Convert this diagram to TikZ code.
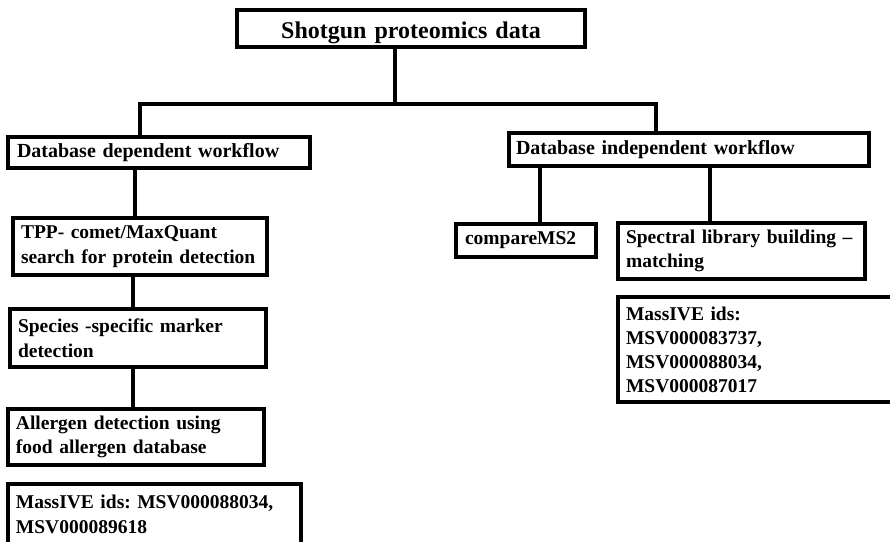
\documentclass[tikz,border=0pt]{standalone}
\usepackage{fontspec}
\setmainfont{Liberation Serif}
\frenchspacing
\begin{document}
\begin{tikzpicture}[x=1pt,y=-1pt,
  box/.style={draw=black, line width=4pt, rectangle, anchor=north west,
    inner xsep=8pt, inner ysep=0pt, outer sep=0pt, align=left,
    font=\bfseries\fontsize{19.5}{24.5}\selectfont},
  link/.style={draw=black, line width=4pt}]
  % page frame
  \fill[white] (0,0) rectangle (890,541);
  \useasboundingbox (0,0) rectangle (890,541);

  % root
  \node[box, align=center, minimum width=348pt, minimum height=37pt, text width=332pt,
        text height=21pt, text depth=2pt,
        font=\bfseries\fontsize{24}{28}\selectfont] (root) at (237,10) {Shotgun proteomics data};

  % two workflows
  \node[box, minimum width=302pt, minimum height=31pt, inner xsep=9pt, text width=284pt,
        font=\bfseries\fontsize{20}{24}\selectfont] (dep) at (8,137) {Database dependent workflow};
  \node[box, minimum width=360pt, minimum height=33pt, inner xsep=7pt, text width=346pt,
        font=\bfseries\fontsize{20}{24}\selectfont] (indep) at (509,133) {Database independent workflow};

  % database dependent branch
  \node[box, minimum width=254pt, minimum height=57pt, text width=238pt] (tpp) at (13,218)
    {TPP- comet/MaxQuant\\search for protein detection};
  \node[box, minimum width=256pt, minimum height=58pt, text width=240pt] (species) at (10,309)
    {Species -specific marker\\detection};
  \node[box, minimum width=256pt, minimum height=56pt, text width=240pt] (allergen) at (8,409)
    {Allergen detection using\\food allergen database};
  \node[box, minimum width=293pt, inner ysep=11pt, text depth=42pt, text width=277pt] (idsleft) at (8,484)
    {MassIVE ids: MSV000088034,\\MSV000089618};

  % database independent branch
  \node[box, minimum width=140pt, minimum height=33pt, inner xsep=9pt, text width=122pt] (cms) at (456,224)
    {compareMS2};
  \node[box, minimum width=247pt, minimum height=56pt, text width=231pt] (spectral) at (618,223)
    {Spectral library building --\\matching};
  \node[box, minimum width=290pt, minimum height=105pt, text width=274pt,
        font=\bfseries\fontsize{19.5}{24}\selectfont] (idsright) at (618,297)
    {MassIVE ids:\\MSV000083737,\\MSV000088034,\\MSV000087017};

  % connector positions
  \coordinate (trunk) at (395,104);
  \coordinate (barL) at (140,104);
  \coordinate (barR) at (656,104);
  \coordinate (depx) at (135,0);
  \coordinate (chainx) at (133,0);
  \coordinate (cmsx) at (540,0);
  \coordinate (specx) at (710,0);

  % connectors
  \draw[link] (root.south -| trunk) -- (trunk);
  \draw[link, line cap=rect] (dep.north -| barL) -- (barL) -- (barR) -- (indep.north -| barR);
  \draw[link] (dep.south -| depx) -- (tpp.north -| depx);
  \draw[link] (tpp.south -| chainx) -- (species.north -| chainx);
  \draw[link] (species.south -| chainx) -- (allergen.north -| chainx);
  \draw[link] (indep.south -| cmsx) -- (cms.north -| cmsx);
  \draw[link] (indep.south -| specx) -- (spectral.north -| specx);
\end{tikzpicture}
\end{document}
